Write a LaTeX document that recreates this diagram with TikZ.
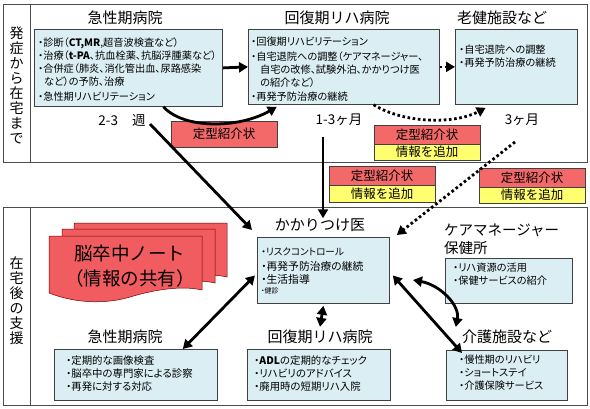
\documentclass[tikz,border=0pt]{standalone}
\usepackage{fontspec}
\setmainfont{Noto Sans CJK JP}[RawFeature=+palt]
\newfontfamily\jpfull{Noto Sans CJK JP}
\usetikzlibrary{arrows.meta,calc}
\definecolor{boxc}{RGB}{219,238,244}
\definecolor{redc}{RGB}{243,104,104}
\definecolor{yelc}{RGB}{255,255,112}
\definecolor{notec}{RGB}{240,92,96}
\tikzset{
  panel/.style={draw=black!70, line width=0.9pt},
  infobox/.style={draw=black!75, fill=boxc, line width=0.8pt, anchor=north west, inner sep=0pt},
  hdr/.style={font=\jpfull\fontsize{15}{15}\selectfont, inner sep=0pt},
  vlab/.style={font=\jpfull\fontsize{14}{15}\selectfont, align=center, inner sep=0pt},
  body/.style={font=\fontsize{10.2}{13}\selectfont, align=left, anchor=north west, inner sep=0pt},
  tagred/.style={draw=black!75, fill=redc, line width=0.7pt, minimum width=106pt, inner sep=0pt, font=\jpfull\fontsize{12.5}{12.5}\selectfont},
  tagyel/.style={draw=black!75, fill=yelc, line width=0.7pt, minimum width=106pt, inner sep=0pt, font=\jpfull\fontsize{12.5}{12.5}\selectfont},
  arr/.style={line width=2.8pt, -{Triangle[length=9pt,width=10pt]}},
  darr/.style={line width=2.8pt, {Triangle[length=9pt,width=10pt]}-{Triangle[length=9pt,width=10pt]}},
  dotarr/.style={line width=2.8pt, dash pattern=on 2.6pt off 2.6pt, -{Triangle[length=9pt,width=10pt]}},
  notestyle/.style={fill=notec, draw=red!45!black, line width=0.5pt},
  timelab/.style={font=\jpfull\fontsize{13.5}{13.5}\selectfont, inner sep=0pt}
}
\begin{document}
\begin{tikzpicture}[x=1pt,y=-1pt]
\useasboundingbox[fill=white] (0,0) rectangle (590,408);

% ---------- panels ----------
\node[panel, minimum width=584pt, minimum height=158pt, anchor=north west, inner sep=0pt] (ptop) at (3,4) {};
\draw[panel] (30,4) -- (30,162);
\node[panel, minimum width=584pt, minimum height=198pt, anchor=north west, inner sep=0pt] (pbot) at (3,207) {};
\draw[panel] (30,207) -- (30,405);
\node[vlab] (vtop) at (16.5,85) {発\\症\\か\\ら\\在\\宅\\ま\\で};
\node[vlab] (vbot) at (16.5,301) {在\\宅\\後\\の\\支\\援};

% ---------- top panel ----------
\node[hdr] (h1) at (125,18) {急性期病院};
\node[hdr] (h2) at (337,18) {回復期リハ病院};
\node[hdr] (h3) at (502,18) {老健施設など};

\node[infobox, minimum width=188pt, minimum height=77pt] (acute) at (34,29) {};
\node[body] (acuteT) at (38,38) {・診断（\textbf{CT,MR},超音波検査など）\\・治療（\textbf{t-PA}、抗血栓薬、抗脳浮腫薬など）\\・合併症（肺炎、消化管出血、尿路感染\\\hspace{6pt}など）の予防、治療\\[1.5pt]・急性期リハビリテーション};

\node[infobox, minimum width=191pt, minimum height=75pt] (recov) at (248,29) {};
\node[body] (recovT) at (251,37) {・回復期リハビリテーション\\[1.5pt]・自宅退院への調整（ケアマネージャー、\\\hspace{9pt}自宅の改修、試験外泊、かかりつけ医\\\hspace{9pt}の紹介など）\\[1.5pt]・再発予防治療の継続};

\node[infobox, minimum width=122pt, minimum height=75pt] (rouken) at (455,29) {};
\node[body] (roukenT) at (459,45) {・自宅退院への調整\\・再発予防治療の継続};

\node[timelab] (wk) at (122,120) {2-3\hspace{14pt}週};
\node[timelab] (m13) at (339,120) {1-3ヶ月};
\node[timelab] (m3) at (522,120) {3ヶ月};

\node[tagred, minimum height=26pt] (tag0) at (224,134) {定型紹介状};
\node[tagred, minimum height=19pt] (tagAr) at (427,134.5) {定型紹介状};
\node[tagyel, minimum height=16pt] (tagAy) at (427,152) {情報を追加};
\node[tagred, minimum height=19pt] (tagBr) at (382,175.5) {定型紹介状};
\node[tagyel, minimum height=17pt] (tagBy) at (382,193.5) {情報を追加};
\node[tagred, minimum height=19pt] (tagCr) at (532,177.5) {定型紹介状};
\node[tagyel, minimum height=16pt] (tagCy) at (532,195) {情報を追加};

% ---------- bottom panel ----------
\foreach \dx/\dy in {25/-13,13/-7,0/0}{
  \draw[notestyle, shift={(\dx,\dy)}] (49,236) -- (202,236) -- (202,290)
    .. controls (185,286) and (160,288) .. (130,297)
    .. controls (110,303) and (80,305) .. (49,293) -- cycle;
}
\node[font=\jpfull\fontsize{18.5}{25}\selectfont, align=center, inner sep=0pt] (note) at (130,266) {脳卒中ノート\\（情報の共有）};

\node[hdr] (kklbl) at (320,225) {かかりつけ医};
\node[infobox, minimum width=132pt, minimum height=66pt] (kk) at (257,237) {};
\node[body, anchor=west, font=\fontsize{9.6}{10}\selectfont] (kt1) at (261,252) {・リスクコントロール};
\node[body, anchor=west, font=\fontsize{10.8}{11}\selectfont] (kt2) at (261,266) {・再発予防治療の継続};
\node[body, anchor=west, font=\fontsize{10.8}{11}\selectfont] (kt3) at (261,279) {・生活指導};
\node[body, anchor=west, font=\fontsize{7}{8}\selectfont] (kt4) at (261,291) {・健診};

\node[hdr, anchor=west, font=\jpfull\fontsize{14.5}{14.5}\selectfont] (cmlbl) at (444,230) {ケアマネージャー};
\node[hdr, anchor=west, font=\jpfull\fontsize{14.5}{14.5}\selectfont] (hclbl) at (444,248) {保健所};
\node[infobox, minimum width=127pt, minimum height=45pt] (cm) at (445,258) {};
\node[body] (cmT) at (453,263) {・リハ資源の活用\\・保健サービスの紹介};

\node[hdr] (bh1) at (125,337) {急性期病院};
\node[hdr] (bh2) at (320,337) {回復期リハ病院};
\node[hdr] (bh3) at (507,337) {介護施設など};

\node[infobox, minimum width=163pt, minimum height=51pt] (bacute) at (54,349) {};
\node[body, font=\fontsize{10.4}{13}\selectfont] (bacuteT) at (66,356) {・定期的な画像検査\\・脳卒中の専門家による診察\\・再発に対する対応};
\node[infobox, minimum width=143pt, minimum height=51pt] (brecov) at (247,349) {};
\node[body, font=\fontsize{10.4}{13}\selectfont] (brecovT) at (254,356) {・\textbf{ADL}の定期的なチェック\\・リハビリのアドバイス\\・廃用時の短期リハ入院};
\node[infobox, minimum width=121pt, minimum height=50pt] (kaigo) at (446,350) {};
\node[body, font=\fontsize{10.2}{13}\selectfont] (kaigoT) at (459,355) {・慢性期のリハビリ\\・ショートステイ\\・介護保険サービス};

% ---------- connectors ----------
\draw[arr] (acute.east) -- (recov.west);
\draw[dotarr] (recov.east) -- (rouken.west);
\draw[arr] ($(acute.south west)!0.685!(acute.south east)$)
  .. controls (185,130) and (240,128) .. ($(recov.south west)!0.15!(recov.south east)+(0,2)$);
\draw[dotarr] ($(recov.south west)!0.655!(recov.south east)$)
  .. controls (405,124) and (455,124) .. ($(rouken.south west)!0.25!(rouken.south east)+(0,3)$);

\coordinate (wkstart) at (150,124);
\draw[arr] (wkstart) -- ($(kk.north west)+(-5,-7)$);
\coordinate (v13) at (323,137);
\draw[arr] (v13) -- (v13 |- kklbl.north);
\coordinate (cstart) at (515,142);
\draw[dotarr] (cstart) -- ($(kk.north east)+(7,-2)$);

\draw[darr] ($(kk.west)+(-2,5)$) -- ($(bacute.north east)+(-35,0)$);
\draw[darr] ($(kk.south)+(0,2)$) -- ($(bh2.north)+(0,-3)$);
\draw[darr] ($(kk.east)+(3,5)$) -- ($(kaigo.north west)+(16,3)$);
\coordinate (cv1) at (413,280);
\draw[darr] (cv1) .. controls (440,285) and (460,305) .. ($(bh3.west)+(-6,-10)$);
\end{tikzpicture}
\end{document}
